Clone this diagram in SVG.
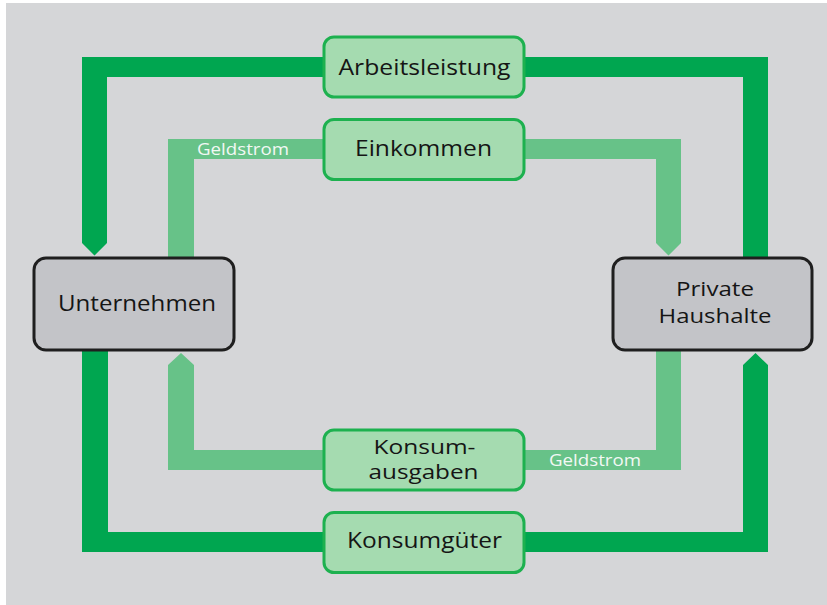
<svg xmlns="http://www.w3.org/2000/svg" width="827" height="605" viewBox="0 0 827 605">
  <style>
    .bg { fill: #d5d6d8; }
    .goods { fill: #00a650; }
    .money { fill: #67c288; }
    .flow rect { fill: #a5dbb0; stroke: #1db14f; stroke-width: 3; }
    .sector rect { fill: #c3c4c8; stroke: #1f1f1f; stroke-width: 3; }
    .lbl { font-family: "Open Sans", "Noto Sans", sans-serif; font-size: 22px; fill: #151515; }
    .lbl2 { font-family: "Open Sans", "Noto Sans", sans-serif; font-size: 20px; fill: #151515; }
    .geld { font-family: "Open Sans", "Noto Sans", sans-serif; font-size: 16px; fill: #f2f8f4; }
  </style>

  <rect x="0" y="0" width="827" height="605" fill="#ffffff"/>
  <rect class="bg" x="6" y="3" width="821" height="602"/>

  <!-- connectors: dark = goods/labour flow, light = money flow -->
  <g id="connectors">
    <!-- Arbeitsleistung -> Unternehmen -->
    <path class="goods" d="M324,57 H82 V243 L94.5,255.5 L107,243 V77 H324 Z"/>
    <!-- Private Haushalte -> Arbeitsleistung -->
    <path class="goods" d="M523,57 H768 V258 H743 V77 H523 Z"/>
    <!-- Unternehmen -> Einkommen -->
    <path class="money" d="M324,139 H168 V258 H194 V159 H324 Z"/>
    <!-- Einkommen -> Private Haushalte -->
    <path class="money" d="M524,139 H681 V243 L668.5,255.5 L656,243 V159 H524 Z"/>
    <!-- Konsumausgaben -> Unternehmen -->
    <path class="money" d="M324,470 H168 V365 L181,353 L194,365 V450 H324 Z"/>
    <!-- Private Haushalte -> Konsumausgaben -->
    <path class="money" d="M524,450 H656 V350 H681 V470 H524 Z"/>
    <!-- Unternehmen -> Konsumgüter -->
    <path class="goods" d="M324,552 H82 V350 H108 V532 H324 Z"/>
    <!-- Konsumgüter -> Private Haushalte -->
    <path class="goods" d="M524,532 H743 V365 L755.5,353 L768,365 V552 H524 Z"/>
    <text class="geld" x="197" y="155" textLength="92" lengthAdjust="spacingAndGlyphs">Geldstrom</text>
    <text class="geld" x="549" y="466" textLength="92" lengthAdjust="spacingAndGlyphs">Geldstrom</text>
  </g>

  <g id="arbeitsleistung" class="flow">
    <rect x="324" y="37" width="200" height="60" rx="10"/>
    <text class="lbl" x="338.5" y="75" textLength="172" lengthAdjust="spacingAndGlyphs">Arbeitsleistung</text>
  </g>
  <g id="einkommen" class="flow">
    <rect x="324" y="119.5" width="200" height="60" rx="10"/>
    <text class="lbl" x="355" y="156" textLength="137" lengthAdjust="spacingAndGlyphs">Einkommen</text>
  </g>
  <g id="konsumausgaben" class="flow">
    <rect x="324" y="430" width="200" height="60" rx="10"/>
    <text class="lbl2" x="373.5" y="454" textLength="102" lengthAdjust="spacingAndGlyphs">Konsum-</text>
    <text class="lbl2" x="368.5" y="479" textLength="110" lengthAdjust="spacingAndGlyphs">ausgaben</text>
  </g>
  <g id="konsumgueter" class="flow">
    <rect x="324" y="512.5" width="200" height="60" rx="10"/>
    <text class="lbl" x="347" y="548" textLength="155" lengthAdjust="spacingAndGlyphs">Konsumgüter</text>
  </g>

  <g id="unternehmen" class="sector">
    <rect x="34" y="258" width="200" height="92" rx="12"/>
    <text class="lbl" x="58" y="311" textLength="158" lengthAdjust="spacingAndGlyphs">Unternehmen</text>
  </g>
  <g id="private-haushalte" class="sector">
    <rect x="613" y="258" width="199" height="92" rx="12"/>
    <text class="lbl2" x="676" y="296" textLength="78" lengthAdjust="spacingAndGlyphs">Private</text>
    <text class="lbl2" x="658.5" y="323" textLength="113" lengthAdjust="spacingAndGlyphs">Haushalte</text>
  </g>
</svg>
